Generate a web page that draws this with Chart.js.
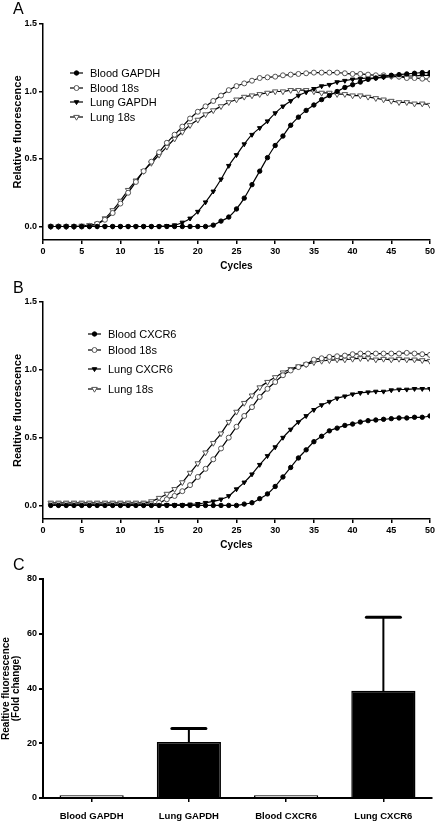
<!DOCTYPE html>
<html>
<head>
<meta charset="utf-8">
<script src="https://cdn.jsdelivr.net/npm/chart.js@4.4.0/dist/chart.umd.min.js"></script>
<style>
  html, body { margin: 0; padding: 0; background: #fff; }
  #wrap { position: relative; width: 437px; height: 822px; overflow: hidden; }
  canvas { position: absolute; left: 0; }
  .panel { position: absolute; left: 13px; font: 16px/16px "Liberation Sans", Arial, sans-serif; color: #000; }
</style>
</head>
<body>
<div id="wrap">
  <canvas id="chartA" width="437" height="275" style="top:0"></canvas>
  <canvas id="chartB" width="437" height="276" style="top:278px"></canvas>
  <canvas id="chartC" width="437" height="269" style="top:553px"></canvas>
  <div class="panel" style="top:1px">A</div>
  <div class="panel" style="top:280px">B</div>
  <div class="panel" style="top:557px">C</div>
</div>
<script>
const FONT = '"Liberation Sans", Arial, sans-serif';

const cycles = [1, 2, 3, 4, 5, 6, 7, 8, 9, 10, 11, 12, 13, 14, 15, 16, 17, 18, 19, 20,
  21, 22, 23, 24, 25, 26, 27, 28, 29, 30, 31, 32, 33, 34, 35, 36, 37, 38, 39, 40,
  41, 42, 43, 44, 45, 46, 47, 48, 49, 50];
const curveYTicks = [0, 0.5, 1.0, 1.5];

// panel A
const bloodGapdhA = [0, 0, 0, 0, 0, 0, 0, 0, 0, 0, 0, 0, 0, 0, 0, 0, 0, 0, 0, 0,
  0, 0.01, 0.04, 0.07, 0.13, 0.21, 0.31, 0.41, 0.51, 0.60, 0.67, 0.75, 0.81, 0.86, 0.90, 0.94, 0.97, 1.00, 1.03, 1.05,
  1.07, 1.09, 1.10, 1.11, 1.12, 1.125, 1.13, 1.135, 1.14, 1.14];
const blood18sA = [0, 0, 0, 0, 0, 0.005, 0.02, 0.05, 0.10, 0.17, 0.25, 0.33, 0.41, 0.48, 0.55, 0.62, 0.68, 0.74, 0.80, 0.85,
  0.89, 0.93, 0.97, 1.01, 1.04, 1.06, 1.08, 1.10, 1.105, 1.11, 1.12, 1.125, 1.13, 1.135, 1.14, 1.14, 1.14, 1.14, 1.135, 1.13,
  1.13, 1.125, 1.12, 1.12, 1.115, 1.11, 1.10, 1.10, 1.095, 1.09];
const lungGapdhA = [0, 0, 0, 0, 0, 0, 0, 0, 0, 0, 0, 0, 0, 0, 0, 0.005, 0.01, 0.03, 0.06, 0.11,
  0.18, 0.26, 0.35, 0.45, 0.53, 0.61, 0.68, 0.73, 0.78, 0.84, 0.89, 0.93, 0.97, 0.995, 1.02, 1.04, 1.05, 1.07, 1.08, 1.09,
  1.095, 1.10, 1.10, 1.105, 1.11, 1.11, 1.115, 1.115, 1.12, 1.12];
const lung18sA = [0, 0, 0, 0, 0.005, 0.01, 0.02, 0.06, 0.12, 0.19, 0.27, 0.34, 0.41, 0.47, 0.53, 0.59, 0.65, 0.70, 0.75, 0.79,
  0.83, 0.86, 0.89, 0.92, 0.94, 0.96, 0.97, 0.98, 0.99, 1.00, 1.00, 1.01, 1.01, 1.01, 1.00, 0.99, 0.99, 0.98, 0.98, 0.97,
  0.97, 0.96, 0.95, 0.94, 0.93, 0.92, 0.92, 0.91, 0.91, 0.90];

// panel B
const bloodCxcr6B = [0, 0, 0, 0, 0, 0, 0, 0, 0, 0, 0, 0, 0, 0, 0, 0, 0, 0, 0, 0,
  0, 0, 0, 0, 0, 0.01, 0.02, 0.05, 0.085, 0.14, 0.21, 0.28, 0.35, 0.41, 0.47, 0.51, 0.55, 0.57, 0.59, 0.60,
  0.615, 0.625, 0.63, 0.635, 0.64, 0.645, 0.645, 0.65, 0.65, 0.66];
const blood18sB = [0.01, 0.01, 0.01, 0.01, 0.01, 0.01, 0.01, 0.01, 0.01, 0.01, 0.01, 0.01, 0.01, 0.01, 0.02, 0.045, 0.07, 0.105, 0.15, 0.21,
  0.27, 0.34, 0.42, 0.50, 0.58, 0.66, 0.725, 0.80, 0.86, 0.91, 0.96, 0.995, 1.02, 1.04, 1.075, 1.085, 1.095, 1.10, 1.105, 1.115,
  1.12, 1.12, 1.12, 1.12, 1.12, 1.12, 1.125, 1.12, 1.115, 1.11];
const lungCxcr6B = [0.005, 0.005, 0.005, 0.005, 0.005, 0.005, 0.005, 0.005, 0.005, 0.005, 0.005, 0.005, 0.005, 0.005, 0.005, 0.005, 0.005, 0.005, 0.008, 0.012,
  0.02, 0.03, 0.045, 0.07, 0.12, 0.17, 0.23, 0.30, 0.365, 0.43, 0.50, 0.56, 0.615, 0.66, 0.705, 0.74, 0.765, 0.79, 0.805, 0.82,
  0.83, 0.835, 0.84, 0.84, 0.85, 0.855, 0.855, 0.86, 0.86, 0.86];
const lung18sB = [0.02, 0.02, 0.02, 0.02, 0.02, 0.02, 0.02, 0.02, 0.02, 0.02, 0.02, 0.02, 0.02, 0.03, 0.055, 0.085, 0.12, 0.17, 0.24, 0.31,
  0.39, 0.46, 0.53, 0.615, 0.69, 0.755, 0.81, 0.87, 0.91, 0.945, 0.98, 1.005, 1.025, 1.04, 1.055, 1.065, 1.07, 1.075, 1.075, 1.08,
  1.085, 1.085, 1.075, 1.08, 1.075, 1.08, 1.075, 1.075, 1.07, 1.065];

// panel C
const barLabels = ['Blood GAPDH', 'Lung GAPDH', 'Blood CXCR6', 'Lung CXCR6'];
const barValues = [1, 20.5, 1, 39.2];
const barErrors = [0, 4.9, 0, 26.8];

const toPoints = vals => cycles.map((c, i) => ({ x: c, y: vals[i] }));

const markerStyles = {
  filledCircle: { pointStyle: 'circle', pointRadius: 2.2, pointBackgroundColor: '#000', pointBorderColor: '#000', pointBorderWidth: 1, pointRotation: 0 },
  openCircle: { pointStyle: 'circle', pointRadius: 2.5, pointBackgroundColor: '#fff', pointBorderColor: '#555', pointBorderWidth: 1, pointRotation: 0 },
  filledTri: { pointStyle: 'triangle', pointRadius: 2.6, pointBackgroundColor: '#000', pointBorderColor: '#000', pointBorderWidth: 1, pointRotation: 180 },
  openTri: { pointStyle: 'triangle', pointRadius: 3.2, pointBackgroundColor: '#fff', pointBorderColor: '#555', pointBorderWidth: 1, pointRotation: 180 }
};

function curve(label, vals, marker) {
  return Object.assign({
    label,
    data: toPoints(vals),
    borderColor: '#000',
    borderWidth: 1.2,
    cubicInterpolationMode: 'monotone',
    fill: false
  }, markerStyles[marker]);
}

// legend drawn inside the plot, line + marker + label
const inlineLegend = {
  id: 'inlineLegend',
  afterDraw(chart, args, opts) {
    if (!opts.rows) return;
    const ctx = chart.ctx;
    ctx.save();
    chart.data.datasets.forEach((ds, i) => {
      const x = opts.x, y = opts.rows[i];
      ctx.strokeStyle = '#000';
      ctx.lineWidth = 1.2;
      ctx.beginPath();
      ctx.moveTo(x, y);
      ctx.lineTo(x + 13, y);
      ctx.stroke();
      ctx.fillStyle = ds.pointBackgroundColor;
      ctx.strokeStyle = ds.pointBorderColor;
      ctx.lineWidth = ds.pointBorderWidth;
      Chart.helpers.drawPoint(ctx, {
        pointStyle: ds.pointStyle, radius: ds.pointRadius,
        rotation: ds.pointRotation, borderWidth: ds.pointBorderWidth
      }, x + 6.5, y);
      ctx.fillStyle = '#000';
      ctx.font = '11px ' + FONT;
      ctx.textBaseline = 'middle';
      ctx.textAlign = 'left';
      ctx.fillText(ds.label, x + 20, y + 0.5);
    });
    ctx.restore();
  }
};

function curveChart(id, datasets, yTitle, legend) {
  return new Chart(document.getElementById(id), {
    type: 'line',
    data: { datasets },
    plugins: [inlineLegend],
    options: {
      responsive: false,
      animation: false,
      layout: { padding: { top: 24, right: 6, bottom: 0, left: 0 } },
      plugins: { legend: { display: false }, tooltip: { enabled: false }, inlineLegend: legend },
      scales: {
        x: {
          type: 'linear', min: 0, max: 50,
          ticks: { stepSize: 5, color: '#000', font: { family: FONT, size: 9, weight: 'bold' }, padding: 2, maxRotation: 0 },
          grid: { drawOnChartArea: false, drawTicks: true, tickLength: 4, color: '#000', lineWidth: 1.5 },
          border: { color: '#000', width: 1.5 },
          title: { display: true, text: 'Cycles', color: '#000', font: { family: FONT, size: 10, weight: 'bold' }, padding: { top: 0, bottom: 3 } },
          afterFit: s => { s.height = 35; }
        },
        y: {
          min: -0.1, max: 1.5,
          afterBuildTicks: s => { s.ticks = curveYTicks.map(v => ({ value: v })); },
          ticks: { color: '#000', font: { family: FONT, size: 9, weight: 'bold' }, padding: 2, callback: v => v.toFixed(1) },
          grid: { drawOnChartArea: false, drawTicks: true, tickLength: 4, color: '#000', lineWidth: 1.5 },
          border: { color: '#000', width: 1.5 },
          title: { display: true, text: yTitle, color: '#000', font: { family: FONT, size: 11, weight: 'bold' }, padding: { top: 11, bottom: 0 } },
          afterFit: s => { s.width = 43; }
        }
      }
    }
  });
}

curveChart('chartA', [
  curve('Blood GAPDH', bloodGapdhA, 'filledCircle'),
  curve('Blood 18s', blood18sA, 'openCircle'),
  curve('Lung GAPDH', lungGapdhA, 'filledTri'),
  curve('Lung 18s', lung18sA, 'openTri')
], 'Relative fluorescence', { x: 70, rows: [73, 88, 102, 117] });

curveChart('chartB', [
  curve('Blood CXCR6', bloodCxcr6B, 'filledCircle'),
  curve('Blood 18s', blood18sB, 'openCircle'),
  curve('Lung CXCR6', lungCxcr6B, 'filledTri'),
  curve('Lung 18s', lung18sB, 'openTri')
], 'Realtive fluorescence', { x: 88, rows: [56, 72, 91, 111] });

// upward error bars with a cap
const errorBars = {
  id: 'errorBars',
  afterDatasetsDraw(chart) {
    const ctx = chart.ctx;
    const yScale = chart.scales.y;
    const meta = chart.getDatasetMeta(0);
    ctx.save();
    ctx.strokeStyle = '#000';
    ctx.lineCap = 'round';
    meta.data.forEach((bar, i) => {
      if (!barErrors[i]) return;
      const top = yScale.getPixelForValue(barValues[i] + barErrors[i]);
      ctx.lineWidth = 2;
      ctx.beginPath();
      ctx.moveTo(bar.x, bar.y);
      ctx.lineTo(bar.x, top);
      ctx.stroke();
      ctx.lineWidth = 3;
      ctx.beginPath();
      ctx.moveTo(bar.x - 17, top);
      ctx.lineTo(bar.x + 17, top);
      ctx.stroke();
    });
    ctx.restore();
  }
};

new Chart(document.getElementById('chartC'), {
  type: 'bar',
  data: {
    labels: barLabels,
    datasets: [{
      data: barValues,
      backgroundColor: ['#d8d8d8', '#000', '#d8d8d8', '#000'],
      borderColor: '#000',
      borderWidth: 1.5,
      categoryPercentage: 1,
      barPercentage: 0.66
    }]
  },
  plugins: [errorBars],
  options: {
    responsive: false,
    animation: false,
    layout: { padding: { top: 26, right: 5, bottom: 0, left: 0 } },
    plugins: { legend: { display: false }, tooltip: { enabled: false } },
    scales: {
      x: {
        ticks: { color: '#000', font: { family: FONT, size: 9.5, weight: 'bold' }, padding: 9, maxRotation: 0 },
        grid: { offset: false, drawOnChartArea: false, drawTicks: true, tickLength: 4, color: '#000', lineWidth: 1.5 },
        border: { color: '#000', width: 2 },
        afterFit: s => { s.height = 24; }
      },
      y: {
        min: 0, max: 80,
        ticks: { stepSize: 20, color: '#000', font: { family: FONT, size: 9, weight: 'bold' }, padding: 2 },
        grid: { drawOnChartArea: false, drawTicks: true, tickLength: 4, color: '#000', lineWidth: 2 },
        border: { color: '#000', width: 2 },
        title: { display: true, text: ['Realtive fluorescence', '(Fold change)'], color: '#000', font: { family: FONT, size: 10, weight: 'bold', lineHeight: 1 }, padding: { top: 1, bottom: 0 } },
        afterFit: s => { s.width = 43; }
      }
    }
  }
});
</script>
</body>
</html>
